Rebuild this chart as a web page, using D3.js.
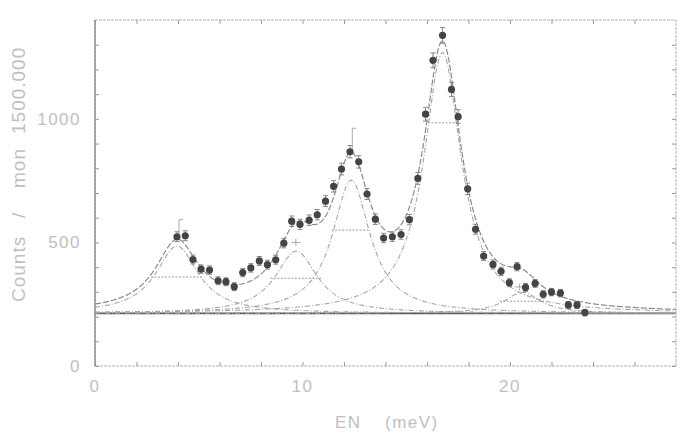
<!DOCTYPE html>
<html>
<head>
<meta charset="utf-8">
<script src="https://cdn.jsdelivr.net/npm/d3@7"></script>
<style>
  body { margin: 0; background: #fff; }
  text { font-family: 'Liberation Sans', Arial, sans-serif; fill: #c0c0c0; }
</style>
</head>
<body>
<svg id="chart" width="682" height="442"></svg>
<script>
// measured points (meV, counts)
const energy = [3.95, 4.35, 4.72, 5.11, 5.52, 5.93, 6.31, 6.71, 7.12, 7.51, 7.92, 8.31, 8.71, 9.10, 9.48, 9.88,
    10.32, 10.71, 11.11, 11.50, 11.88, 12.29, 12.71, 13.11, 13.51, 13.91, 14.33, 14.75, 15.15, 15.56, 15.93,
    16.29, 16.75, 17.18, 17.50, 17.96, 18.34, 18.73, 19.18, 19.57, 19.97, 20.34, 20.75, 21.21, 21.60, 22.00,
    22.43, 22.81, 23.23, 23.61]
const counts = [523, 527, 431, 392, 388, 345, 341, 321, 378, 397, 425, 410, 430, 497, 586, 573,
    590, 612, 667, 727, 797, 867, 826, 696, 594, 518, 523, 532, 592, 759, 1019,
    1237, 1338, 1119, 1009, 717, 553, 445, 411, 383, 337, 402, 318, 334, 290, 299,
    295, 247, 247, 216]
const errors = [20, 20, 18, 17, 17, 16, 16, 16, 17, 17, 18, 18, 18, 19, 21, 21,
    21, 21, 22, 23, 24, 25, 25, 22, 21, 19, 19, 19, 21, 24, 28,
    30, 32, 29, 28, 23, 20, 18, 18, 17, 16, 17, 16, 16, 15, 15,
    15, 14, 14, 13]

// fitted components (lorentzians on a flat background)
const background = 213
const peakCenter = [3.95, 9.7, 12.35, 16.75, 20.6]
const peakHeight = [272, 252, 539, 1055, 85]
const peakFwhm = [2.5, 2.45, 2.2, 2.2, 2.1]

// dotted width bars of each component
const barFrom = [2.7, 8.45, 11.4, 16.05, 19.5]
const barTo = [5.2, 10.9, 13.2, 17.47, 21.6]
const barLevel = [360, 355, 550, 984, 262]

// peak position markers
const markX = [4.05, 9.68, 12.4, 20.45]
const markLo = [533, 486, 873, 306]
const markHi = [592, 514, 962, 334]
const markHalf = [0, 0.22, 0, 0.22]

const xTicks = [0, 10, 20]
const yTicks = [0, 500, 1000]

const svg = d3.select('#chart')
const mLeft = 95, mRight = 676, mTop = 20, mBottom = 366

const x = d3.scaleLinear().domain([0, 28]).range([mLeft, mRight])
const y = d3.scaleLinear().domain([0, 1400]).range([mBottom, mTop])

function lorentz (i, e) {
    const g = peakFwhm[i] / 2
    const d = (e - peakCenter[i]) / g
    return peakHeight[i] / (1 + d * d)
}

const grid = d3.range(0, 28.001, 0.05)
const plot = svg.append('g')

plot.append('clipPath').attr('id', 'clip')
    .append('rect')
    .attr('x', mLeft).attr('y', mTop)
    .attr('width', mRight - mLeft).attr('height', mBottom - mTop)

const curves = plot.append('g').attr('clip-path', 'url(#clip)')
const line = d3.line().x(d => x(d[0])).y(d => y(d[1]))

// background
curves.append('line')
    .attr('x1', mLeft).attr('x2', mRight)
    .attr('y1', y(background)).attr('y2', y(background))
    .attr('stroke', '#555').attr('stroke-width', 1.6)

// components
peakCenter.forEach((c, i) => {
    curves.append('path')
        .datum(grid.map(e => [e, background + lorentz(i, e)]))
        .attr('d', line)
        .attr('fill', 'none')
        .attr('stroke', '#a6a6a6')
        .attr('stroke-width', 1.1)
        .attr('stroke-dasharray', '5,2,1,2')
})

// total fit
curves.append('path')
    .datum(grid.map(e => [e, background + d3.sum(peakCenter, (c, i) => lorentz(i, e))]))
    .attr('d', line)
    .attr('fill', 'none')
    .attr('stroke', '#8c8c8c')
    .attr('stroke-width', 1.2)
    .attr('stroke-dasharray', '6,2')

// width bars
barFrom.forEach((b, i) => {
    curves.append('line')
        .attr('x1', x(b)).attr('x2', x(barTo[i]))
        .attr('y1', y(barLevel[i])).attr('y2', y(barLevel[i]))
        .attr('stroke', '#999').attr('stroke-width', 1)
        .attr('stroke-dasharray', '2,1.5')
})

// peak markers
markX.forEach((m, i) => {
    const g = curves.append('g').attr('stroke', '#aaa').attr('stroke-width', 1)
    g.append('line')
        .attr('x1', x(m)).attr('x2', x(m))
        .attr('y1', y(markLo[i])).attr('y2', y(markHi[i]))
    if (markHalf[i] > 0) {
        const mid = (markLo[i] + markHi[i]) / 2
        g.append('line')
            .attr('x1', x(m - markHalf[i])).attr('x2', x(m + markHalf[i]))
            .attr('y1', y(mid)).attr('y2', y(mid))
    } else {
        g.append('line')
            .attr('x1', x(m)).attr('x2', x(m) + 4)
            .attr('y1', y(markHi[i])).attr('y2', y(markHi[i]))
    }
})

// data points with error bars
const pts = curves.selectAll('g.pt')
    .data(energy.map((e, i) => ({ e, c: counts[i], err: errors[i] })))
    .join('g').attr('class', 'pt')

pts.append('line')
    .attr('x1', d => x(d.e)).attr('x2', d => x(d.e))
    .attr('y1', d => y(d.c - d.err)).attr('y2', d => y(d.c + d.err))
    .attr('stroke', '#888').attr('stroke-width', 1)
pts.selectAll('line.cap')
    .data(d => [d.c - d.err, d.c + d.err].map(v => ({ e: d.e, v })))
    .join('line').attr('class', 'cap')
    .attr('x1', d => x(d.e) - 2.5).attr('x2', d => x(d.e) + 2.5)
    .attr('y1', d => y(d.v)).attr('y2', d => y(d.v))
    .attr('stroke', '#888').attr('stroke-width', 1)
pts.append('circle')
    .attr('cx', d => x(d.e)).attr('cy', d => y(d.c))
    .attr('r', 3.6)
    .attr('fill', '#444')

// frame and ticks
svg.append('rect')
    .attr('x', mLeft).attr('y', mTop)
    .attr('width', mRight - mLeft).attr('height', mBottom - mTop)
    .attr('fill', 'none').attr('stroke', '#b0b0b0').attr('stroke-width', 1)
    .attr('stroke-dasharray', '3,1')
svg.append('line')
    .attr('x1', mLeft).attr('x2', mLeft).attr('y1', mTop).attr('y2', mBottom)
    .attr('stroke', '#808080').attr('stroke-width', 1.2)

const xAxisB = d3.axisBottom(x).tickValues(d3.range(0, 28, 2)).tickSize(-4).tickFormat('')
const xAxisT = d3.axisTop(x).tickValues(d3.range(0, 28, 2)).tickSize(-4).tickFormat('')
const yAxisL = d3.axisLeft(y).tickValues(d3.range(0, 1400, 100)).tickSize(-4).tickFormat('')
const yAxisR = d3.axisRight(y).tickValues(d3.range(0, 1400, 100)).tickSize(-4).tickFormat('')

svg.append('g').attr('transform', `translate(0,${mBottom})`).call(xAxisB)
svg.append('g').attr('transform', `translate(0,${mTop})`).call(xAxisT)
svg.append('g').attr('transform', `translate(${mLeft},0)`).call(yAxisL)
svg.append('g').attr('transform', `translate(${mRight},0)`).call(yAxisR)
svg.selectAll('.domain').remove()
svg.selectAll('.tick line').attr('stroke', '#999')

// tick labels
svg.selectAll('text.xl')
    .data(xTicks).join('text').attr('class', 'xl')
    .attr('x', d => x(d)).attr('y', 392)
    .attr('text-anchor', 'middle')
    .attr('font-size', 17).attr('letter-spacing', 1.5)
    .text(d => d)
svg.selectAll('text.yl')
    .data(yTicks).join('text').attr('class', 'yl')
    .attr('x', 81).attr('y', d => y(d) + 6)
    .attr('text-anchor', 'end')
    .attr('font-size', 17).attr('letter-spacing', 1.5)
    .text(d => d)

// axis titles
svg.append('text').attr('x', 335).attr('y', 428)
    .attr('font-size', 17).attr('letter-spacing', 1.5).text('EN')
svg.append('text').attr('x', 385).attr('y', 428)
    .attr('font-size', 17).attr('letter-spacing', 1.5).text('(meV)')

const yTitle = [['Counts', 302], ['/', 218], ['mon', 188], ['1500.000', 134]]
yTitle.forEach(([t, pos]) => {
    svg.append('text')
        .attr('transform', `translate(25,${pos}) rotate(-90)`)
        .attr('font-size', 19).attr('letter-spacing', 1)
        .text(t)
})
</script>
</body>
</html>
